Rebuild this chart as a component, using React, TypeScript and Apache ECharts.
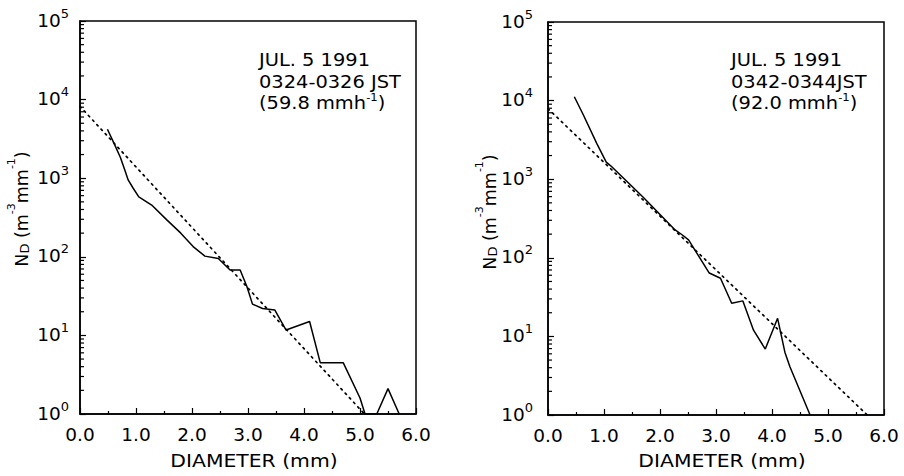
import React, { useEffect, useRef } from "react";
import * as echarts from "echarts";

// ---- data ----
const leftDiameter = [0.49, 0.62, 0.72, 0.8, 0.86, 0.95, 1.05, 1.28, 1.55, 1.8, 2.02, 2.23, 2.47, 2.68, 2.86, 2.98, 3.08, 3.26, 3.48, 3.68, 4.1, 4.29, 4.7, 5.0, 5.09, 5.3, 5.5, 5.7];
const leftND = [4200, 2650, 1850, 1270, 950, 745, 580, 455, 295, 200, 135, 102, 95, 68, 68, 42, 25, 22, 21, 11.7, 15, 4.5, 4.5, 1.6, 1.0, 1.0, 2.1, 1.0];
const leftFitD = [0, 5.08];
const leftFitN = [8200, 1];

const rightDiameter = [0.47, 0.63, 0.87, 1.04, 1.12, 1.7, 2.27, 2.4, 2.51, 2.66, 2.88, 3.08, 3.28, 3.48, 3.67, 3.88, 4.1, 4.23, 4.32, 4.68];
const rightND = [11200, 6600, 2860, 1650, 1480, 590, 226, 195, 169, 114, 64, 55, 26.4, 28.3, 12, 6.9, 17, 6.3, 4.1, 1.0];
const rightFitD = [0, 5.7];
const rightFitN = [7900, 1];

const xTicks = [0, 1, 2, 3, 4, 5, 6];
const yMin = 1;
const yMax = 100000;
const minorTickValues: number[] = [];
for (let k = 0; k < 5; k++) for (let m = 2; m <= 9; m++) minorTickValues.push(m * Math.pow(10, k));

const annotationLeft = ["JUL. 5 1991", "0324-0326 JST", "(59.8 mmh{s|-1})"];
const annotationRight = ["JUL. 5 1991", "0342-0344JST", "(92.0 mmh{s|-1})"];
const xTitle = "DIAMETER (mm)";

const FONT = "DejaVu Sans";
const FS = 18.5;

const zip = (a: number[], b: number[]) => a.map((v, i) => [v, b[i]]);

export default function App() {
  const ref = useRef<HTMLDivElement>(null);
  useEffect(() => {
    if (!ref.current) return;
    const chart = echarts.init(ref.current, undefined, { renderer: "svg" });

    const grids = [
      { left: 80, top: 21, width: 336, height: 393 },
      { left: 548, top: 22, width: 336, height: 393 },
    ];
    const labelMargins = [11, 15];

    const xAxis = grids.map((_, i) => ({
      type: "value",
      gridIndex: i,
      min: xTicks[0],
      max: xTicks[xTicks.length - 1],
      interval: 1,
      axisLine: { show: true, onZero: false, lineStyle: { color: "#000", width: 1.5 } },
      axisTick: { show: true, inside: true, length: 6, lineStyle: { color: "#000", width: 1.2 } },
      minorTick: { show: true, splitNumber: 2, length: 3, lineStyle: { color: "#000", width: 1.2 } },
      splitLine: { show: false },
      axisLabel: {
        margin: 11,
        fontFamily: FONT,
        fontSize: FS,
        color: "#000",
        formatter: (v: number) => v.toFixed(1),
      },
    }));

    const yAxis = grids.map((_, i) => ({
      type: "log",
      logBase: 10,
      gridIndex: i,
      min: yMin,
      max: yMax,
      splitNumber: 5,
      axisLine: { show: true, onZero: false, lineStyle: { color: "#000", width: 1.5 } },
      axisTick: { show: true, inside: true, length: 6, lineStyle: { color: "#000", width: 1.2 } },
      splitLine: { show: false },
      axisLabel: {
        margin: labelMargins[i],
        color: "#000",
        fontFamily: FONT,
        padding: [0, 0, 6, 0],
        formatter: (v: number) => "{a|10}{b|" + Math.round(Math.log10(v)) + "}",
        rich: {
          a: { fontFamily: FONT, fontSize: FS, color: "#000", lineHeight: 23, verticalAlign: "bottom" },
          b: { fontFamily: FONT, fontSize: 13, color: "#000", lineHeight: 13, verticalAlign: "top" },
        },
      },
    }));

    const lineSeries = (i: number, data: number[][]) => ({
      type: "line",
      xAxisIndex: i,
      yAxisIndex: i,
      data,
      showSymbol: false,
      symbol: "none",
      lineStyle: { color: "#000", width: 1.5 },
      silent: true,
    });
    const fitSeries = (i: number, data: number[][]) => ({
      type: "line",
      xAxisIndex: i,
      yAxisIndex: i,
      data,
      showSymbol: false,
      symbol: "none",
      lineStyle: { color: "#000", width: 1.7, type: [1.7, 4.5], cap: "round" },
      silent: true,
    });
    // log-scale minor ticks on the y axis, placed through the axis scale
    const minorSeries = (i: number) => ({
      type: "scatter",
      xAxisIndex: i,
      yAxisIndex: i,
      silent: true,
      clip: false,
      z: 5,
      symbol: "rect",
      symbolSize: [4, 1.2],
      symbolOffset: [2, 0],
      itemStyle: { color: "#000", opacity: 1 },
      data: minorTickValues.map((v) => [xTicks[0], v]),
    });

    const annotationRich = {
      n: { fontFamily: FONT, fontSize: FS, color: "#000", lineHeight: 21.3 },
      s: { fontFamily: FONT, fontSize: 11, color: "#000", verticalAlign: "top", lineHeight: 16 },
    };
    const annot = (x: number, lines: string[]) => ({
      type: "text",
      x,
      y: 49,
      scaleX: 1.05,
      style: {
        text: lines.map((l) => "{n|" + l.replace(/\{s\|([^}]*)\}/g, "}{s|$1}{n|") + "}").join("\n"),
        rich: annotationRich,
        fontFamily: FONT,
        fontSize: FS,
        fill: "#000",
        align: "left",
        verticalAlign: "top",
      },
    });

    const xName = (x: number) => ({
      type: "text",
      x,
      y: 461,
      scaleX: 1.1,
      style: {
        text: xTitle,
        fontFamily: FONT,
        fontSize: FS,
        fill: "#000",
        align: "center",
        verticalAlign: "middle",
      },
    });

    const yTitleRich = {
      n: { fontFamily: FONT, fontSize: 17.5, color: "#000", lineHeight: 25, verticalAlign: "bottom" },
      d: { fontFamily: FONT, fontSize: 13, color: "#000", lineHeight: 19, verticalAlign: "bottom" },
      s: { fontFamily: FONT, fontSize: 11, color: "#000", lineHeight: 14, verticalAlign: "top" },
    };
    const yTitle = (x: number, y: number) => ({
      type: "text",
      x,
      y,
      rotation: Math.PI / 2,
      style: {
        text: "{n|N}{d|D}{n| (m}{s|-3}{n|mm}{s|-1}{n|)}",
        rich: yTitleRich,
        align: "center",
        verticalAlign: "middle",
        fill: "#000",
      },
    });

    chart.setOption({
      animation: false,
      backgroundColor: "#fff",
      grid: grids.map((g) => ({ ...g, show: true, borderColor: "#000", borderWidth: 1.5, backgroundColor: "transparent", containLabel: false })),
      xAxis,
      yAxis,
      series: [
        minorSeries(0),
        minorSeries(1),
        fitSeries(0, zip(leftFitD, leftFitN)),
        lineSeries(0, zip(leftDiameter, leftND)),
        fitSeries(1, zip(rightFitD, rightFitN)),
        lineSeries(1, zip(rightDiameter, rightND)),
      ],
      graphic: [
        annot(259, annotationLeft),
        annot(731, annotationRight),
        xName(254),
        xName(722),
        yTitle(18, 209),
        yTitle(486, 212),
      ],
    });
    return () => chart.dispose();
  }, []);
  return <div ref={ref} style={{ position: "fixed", left: 0, top: 0, width: 904, height: 476 }} />;
}
